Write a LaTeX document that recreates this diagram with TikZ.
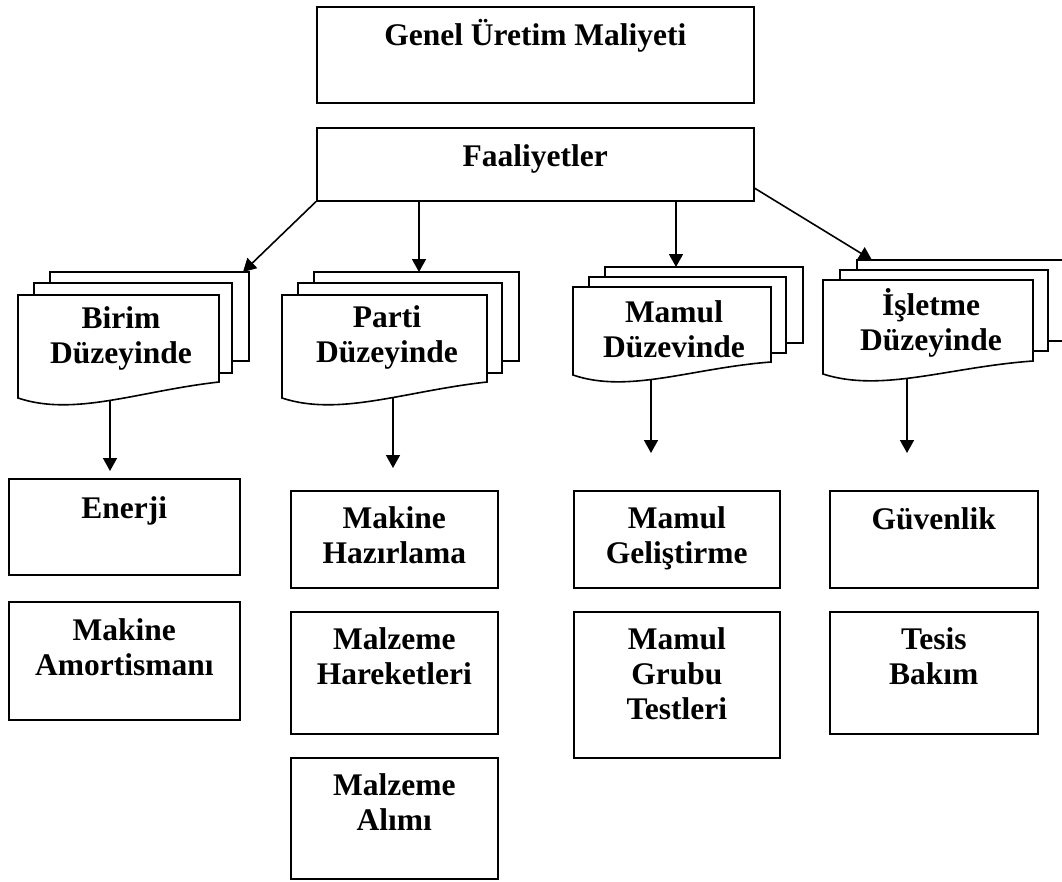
\documentclass[tikz,border=0pt]{standalone}
\usepackage{fontspec}
\setmainfont{Liberation Serif}
\usetikzlibrary{arrows.meta,calc}
\newcommand\fs{\rule{0pt}{28pt}}
\tikzset{
  box/.style={draw=black, line width=1.6pt, fill=white, inner sep=0pt, anchor=north west},
  lbl/.style={font=\bfseries\fontsize{31.5}{35}\selectfont, align=center, inner sep=0pt, anchor=north},
  arr/.style={line width=1.6pt, -{Triangle[width=14pt,length=13pt]}},
  docline/.style={draw=black, line width=1.6pt, fill=white}
}
% front document with wavy bottom: x1 y1 x2 yleft yright
\newcommand\frontdoc[5]{%
  \path[docline] (#1,#2) -- (#3,#2) -- (#3,#5)
    .. controls ({#1+0.6*(#3-#1)},{#4-7}) and ({#1+0.28*(#3-#1)},{#4+19}) .. (#1,#4) -- cycle;}
\newcommand\backdoc[4]{%
  \path[docline] (#1,#2) rectangle (#3,#4);}
\begin{document}
\begin{tikzpicture}[x=1pt,y=-1pt]
\useasboundingbox (0,0) rectangle (1062,881);
\clip (0,0) rectangle (1062,881);

% top boxes
\node[box, minimum width=437pt, minimum height=96pt] (gum) at (316,6) {};
\node[lbl] (gumt) at ([yshift=-11pt]gum.north) {\fs Genel Üretim Maliyeti};
\node[box, minimum width=437pt, minimum height=73pt] (faal) at (316,127) {};
\node[lbl] (faalt) at ([yshift=-11pt]faal.north) {\fs Faaliyetler};

% coordinates for arrows
\coordinate (birimTop) at (243,272);
\coordinate (partiTop) at (419,272);
\coordinate (mamulTop) at (676,267);
\coordinate (isletTop) at (872,260);
\coordinate (birimBot) at (110,390);
\coordinate (birimEnd) at (110,471);
\coordinate (partiBot) at (393,385);
\coordinate (partiEnd) at (393,468);
\coordinate (mamulBot) at (651,370);
\coordinate (mamulEnd) at (651,453);
\coordinate (isletBot) at (907,370);
\coordinate (isletEnd) at (907,453);

% down arrows (drawn under documents)
\draw[arr] (birimBot) -- (birimEnd);
\draw[arr] (partiBot) -- (partiEnd);
\draw[arr] (mamulBot) -- (mamulEnd);
\draw[arr] (isletBot) -- (isletEnd);

% Birim stack
\backdoc{50}{272}{249}{361}
\backdoc{34}{283}{232}{373}
\frontdoc{18}{295}{219}{398}{382}
\node[lbl] (birim) at (121,300) {\fs Birim\\Düzeyinde};

% Parti stack
\backdoc{314}{272}{519}{361}
\backdoc{298}{283}{502}{373}
\frontdoc{282}{295}{487}{398}{382}
\node[lbl] (parti) at (387,299) {\fs Parti\\Düzeyinde};

% Mamul stack
\backdoc{605}{267}{803}{343}
\backdoc{589}{277}{786}{353}
\frontdoc{573}{287}{771}{375}{362}
\node[lbl] (mamul) at (674,294) {\fs Mamul\\Düzevinde};

% Isletme stack
\backdoc{857}{260}{1090}{341}
\backdoc{840}{270}{1048}{351}
\frontdoc{823}{280}{1033}{374}{361}
\node[lbl] (islet) at (931,287) {\fs İşletme\\Düzeyinde};

% arrows from Faaliyetler
\draw[arr] (faal.south west) -- (birimTop);
\draw[arr] (faal.south west -| partiTop) -- (partiTop);
\draw[arr] (faal.south west -| mamulTop) -- (mamulTop);
\draw[arr] ($(faal.north east)!0.82!(faal.south east)$) -- (isletTop);

% lower boxes
\node[box, minimum width=231pt, minimum height=96pt] (enerji) at (8,478) {};
\node[lbl] (enerjit) at ([yshift=-12pt]enerji.north) {\fs Enerji};
\node[box, minimum width=231pt, minimum height=118pt] (amort) at (8,601) {};
\node[lbl] (amortt) at ([yshift=-11pt]amort.north) {\fs Makine\\Amortismanı};

\node[box, minimum width=207pt, minimum height=97pt] (hazir) at (290,490) {};
\node[lbl] (hazirt) at ([yshift=-10pt]hazir.north) {\fs Makine\\Hazırlama};
\node[box, minimum width=207pt, minimum height=122pt] (harek) at (290,611) {};
\node[lbl] (harekt) at ([yshift=-10pt]harek.north) {\fs Malzeme\\Hareketleri};
\node[box, minimum width=207pt, minimum height=121pt] (alim) at (290,757) {};
\node[lbl] (alimt) at ([yshift=-10pt]alim.north) {\fs Malzeme\\Alımı};

\node[box, minimum width=206pt, minimum height=97pt] (gelis) at (573,490) {};
\node[lbl] (gelist) at ([yshift=-10pt]gelis.north) {\fs Mamul\\Geliştirme};
\node[box, minimum width=206pt, minimum height=146pt] (grubu) at (573,611) {};
\node[lbl] (grubut) at ([yshift=-10pt]grubu.north) {\fs Mamul\\Grubu\\Testleri};

\node[box, minimum width=208pt, minimum height=97pt] (guven) at (829,490) {};
\node[lbl] (guvent) at ([yshift=-11pt]guven.north) {\fs Güvenlik};
\node[box, minimum width=208pt, minimum height=122pt] (tesis) at (829,611) {};
\node[lbl] (tesist) at ([yshift=-10pt]tesis.north) {\fs Tesis\\Bakım};
\end{tikzpicture}
\end{document}
